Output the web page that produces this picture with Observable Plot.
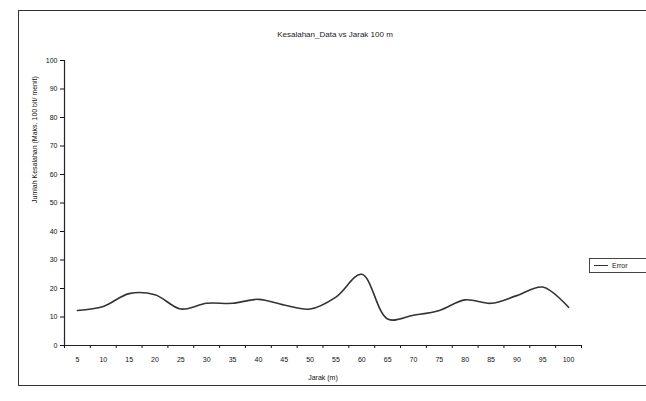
<!DOCTYPE html>
<html>
<head>
<meta charset="utf-8">
<script src="https://cdn.jsdelivr.net/npm/d3@7"></script>
<script src="https://cdn.jsdelivr.net/npm/@observablehq/plot@0.6"></script>
<style>
  html, body { margin: 0; padding: 0; background: #fff; }
  #wrap { position: relative; width: 646px; height: 401px; overflow: hidden; font-family: "Liberation Sans", Arial, sans-serif; }
  #frame { position: absolute; left: 18px; top: 10px; width: 640px; height: 376px; border: 1.5px solid #333; border-right: none; box-sizing: border-box; }
  #title { position: absolute; left: 0; width: 670px; top: 30px; text-align: center; font-size: 8px; color: #222; }
  #legend { position: absolute; left: 589px; top: 258px; width: 60px; height: 15px; border: 1px solid #444; box-sizing: border-box; font-size: 7px; color: #222; display: flex; align-items: center; }
  #legend .sw { display: inline-block; width: 14px; height: 0; border-top: 1.5px solid #333; margin: 0 4px 0 4px; }
  #chart { position: absolute; left: 0; top: 0; }
</style>
</head>
<body>
<div id="wrap">
  <div id="chart"></div>
  <div id="frame"></div>
  <div id="title">Kesalahan_Data vs Jarak 100 m</div>
  <div id="legend"><span class="sw"></span>Error</div>
</div>
<script>
const jarak = [5, 10, 15, 20, 25, 30, 35, 40, 45, 50, 55, 60, 65, 70, 75, 80, 85, 90, 95, 100];
const error = [12.3, 13.7, 18.2, 17.8, 12.8, 14.8, 14.8, 16.2, 14.2, 12.8, 17, 25, 9.3, 10.6, 12.3, 16, 14.8, 17.5, 20.5, 13.4];
const yTicks = [0, 10, 20, 30, 40, 50, 60, 70, 80, 90, 100];
const xTitle = "Jarak (m)";
const yTitle = "Jumlah Kesalahan (Maks. 100 bit/ menit)";

const data = jarak.map((j, i) => ({jarak: j, error: error[i]}));
const step = jarak[1] - jarak[0];
const bounds = [jarak[0] - step / 2, ...jarak.map(j => j + step / 2)];

const chart = Plot.plot({
  width: 646,
  height: 401,
  marginLeft: 64,
  marginRight: 65,
  marginTop: 60,
  marginBottom: 56,
  style: {fontFamily: "Liberation Sans, Arial, sans-serif", fontSize: "7px", color: "#111", background: "transparent"},
  x: {domain: [bounds[0], bounds[bounds.length - 1]]},
  y: {domain: [0, 100]},
  marks: [
    Plot.axisY({ticks: yTicks, tickSize: 4, tickPadding: 3, label: null, fontSize: 7, fill: "#111"}),
    Plot.axisX({ticks: bounds, tickSize: 3, tickFormat: () => "", label: null}),
    Plot.axisX({ticks: jarak, tickSize: 0, tickPadding: 12, label: null, fontSize: 7, fill: "#111"}),
    Plot.ruleX([bounds[0]], {stroke: "#222", strokeWidth: 1.2}),
    Plot.ruleY([0], {stroke: "#222", strokeWidth: 1.2}),
    Plot.text([xTitle], {frameAnchor: "bottom", dy: 34, fontSize: 7, fill: "#111"}),
    Plot.text([yTitle], {frameAnchor: "left", dx: -30, rotate: -90, fontSize: 7, fill: "#111"}),
    Plot.line(data, {x: "jarak", y: "error", curve: "catmull-rom", stroke: "#333", strokeWidth: 1.6})
  ]
});
document.getElementById("chart").appendChild(chart);
</script>
</body>
</html>
